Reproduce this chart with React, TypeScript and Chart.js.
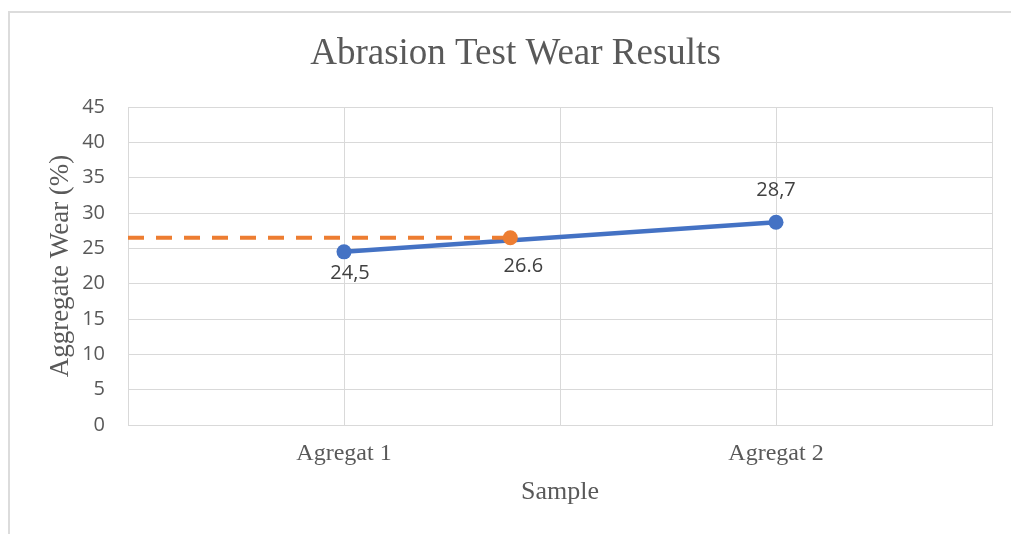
import React, { useEffect, useRef } from 'react';
import { Chart, registerables } from 'chart.js';

Chart.register(...registerables);

// ---- data ----
const chartTitle = 'Abrasion Test Wear Results';
const xAxisTitle = 'Sample';
const yAxisTitle = 'Aggregate Wear (%)';
const categoryPositions = [1, 3];
const categoryLabels = ['Agregat 1', 'Agregat 2'];
const wearX = [1, 3];
const wearValues = [24.5, 28.7];
const wearLabels = ['24,5', '28,7'];
const refLineX = [0, 1.77];
const refLineValues = [26.5, 26.5];
const refPointX = [1.77];
const refPointValues = [26.5];
const refPointLabels = ['26.6'];
const xMin = 0;
const xMax = 4;
const yMin = 0;
const yMax = 45;
const yStep = 5;

const SERIF = '"Liberation Serif", "Times New Roman", serif';
const SANS = '"Open Sans", "Noto Sans", sans-serif';
const GRID = '#d9d9d9';
const TEXT = '#595959';

const valueLabelPlugin = {
  id: 'valueLabels',
  afterDatasetsDraw(chart: any) {
    const ctx = chart.ctx;
    chart.data.datasets.forEach((ds: any, i: number) => {
      if (!ds.valueLabels) return;
      const meta = chart.getDatasetMeta(i);
      ctx.save();
      ctx.font = '20px ' + SANS;
      ctx.fillStyle = '#404040';
      ctx.textAlign = 'center';
      ctx.textBaseline = 'middle';
      meta.data.forEach((pt: any, j: number) => {
        const off = ds.labelOffsets[j];
        ctx.fillText(ds.valueLabels[j], pt.x + off.dx, pt.y + off.dy);
      });
      ctx.restore();
    });
  },
};

const chartTitlePlugin = {
  id: 'chartTitleText',
  afterDraw(chart: any) {
    const ctx = chart.ctx;
    ctx.save();
    ctx.font = '37px ' + SERIF;
    ctx.fillStyle = TEXT;
    ctx.textAlign = 'center';
    ctx.textBaseline = 'middle';
    ctx.fillText(chartTitle, 515.5, 54);
    ctx.restore();
  },
};

export default function App() {
  const canvasRef = useRef<HTMLCanvasElement | null>(null);

  useEffect(() => {
    if (!canvasRef.current) return;
    const chart = new Chart(canvasRef.current, {
      type: 'scatter',
      data: {
        datasets: [
          {
            label: 'Reference point',
            data: refPointX.map((x, i) => ({ x, y: refPointValues[i] })),
            showLine: false,
            pointRadius: 7.5,
            pointBackgroundColor: '#ED7D31',
            pointBorderWidth: 0,
            borderColor: '#ED7D31',
            order: 0,
            valueLabels: refPointLabels,
            labelOffsets: [{ dx: 13, dy: 29 }],
          } as any,
          {
            label: 'Reference line',
            data: refLineX.map((x, i) => ({ x, y: refLineValues[i] })),
            showLine: true,
            borderColor: '#ED7D31',
            borderWidth: 4,
            borderDash: [16, 12],
            pointRadius: 0,
            order: 1,
          } as any,
          {
            label: 'Aggregate wear',
            data: wearX.map((x, i) => ({ x, y: wearValues[i] })),
            showLine: true,
            borderColor: '#4472C4',
            borderWidth: 4.5,
            pointRadius: 7.5,
            pointBackgroundColor: '#4472C4',
            pointBorderWidth: 0,
            order: 2,
            valueLabels: wearLabels,
            labelOffsets: [
              { dx: 6, dy: 21 },
              { dx: 0, dy: -32 },
            ],
          } as any,
        ],
      },
      options: {
        responsive: false,
        animation: false,
        devicePixelRatio: 1,
        layout: { padding: { left: 0, right: 19, top: 107, bottom: 0 } },
        plugins: {
          legend: { display: false },
          tooltip: { enabled: false },
          title: { display: false },
        },
        scales: {
          x: {
            type: 'linear',
            min: xMin,
            max: xMax,
            afterFit: (scale: any) => {
              scale.height = 109;
            },
            ticks: {
              stepSize: 1,
              autoSkip: false,
              maxRotation: 0,
              padding: 14,
              color: TEXT,
              font: { family: SERIF, size: 24 },
              callback: (value: any) => {
                const idx = categoryPositions.indexOf(Number(value));
                return idx >= 0 ? categoryLabels[idx] : '';
              },
            },
            grid: { color: GRID, lineWidth: 1, drawTicks: false },
            border: { display: true, color: GRID, width: 1 },
            title: {
              display: true,
              text: xAxisTitle,
              color: TEXT,
              font: { family: SERIF, size: 26 },
              padding: { top: 0, bottom: 26 },
            },
          },
          y: {
            type: 'linear',
            min: yMin,
            max: yMax,
            afterFit: (scale: any) => {
              scale.width = 128;
            },
            ticks: {
              stepSize: yStep,
              padding: 23,
              color: TEXT,
              font: { family: SANS, size: 20 },
            },
            grid: { color: GRID, lineWidth: 1, drawTicks: false },
            border: { display: true, color: GRID, width: 1 },
            title: {
              display: true,
              text: yAxisTitle,
              color: TEXT,
              font: { family: SERIF, size: 27 },
              padding: { top: 45, bottom: 0 },
            },
          },
        },
      } as any,
      plugins: [valueLabelPlugin, chartTitlePlugin],
    });
    return () => chart.destroy();
  }, []);

  return (
    <div style={{ position: 'absolute', left: 0, top: 0, width: 1011, height: 534, overflow: 'hidden', background: '#fff' }}>
      <div
        style={{
          position: 'absolute',
          left: 8,
          top: 11,
          width: 1100,
          height: 600,
          borderLeft: '2px solid #dcdcdc',
          borderTop: '2px solid #dcdcdc',
        }}
      />
      <canvas ref={canvasRef} width={1011} height={534} style={{ position: 'absolute', left: 0, top: 0, width: 1011, height: 534 }} />
    </div>
  );
}
